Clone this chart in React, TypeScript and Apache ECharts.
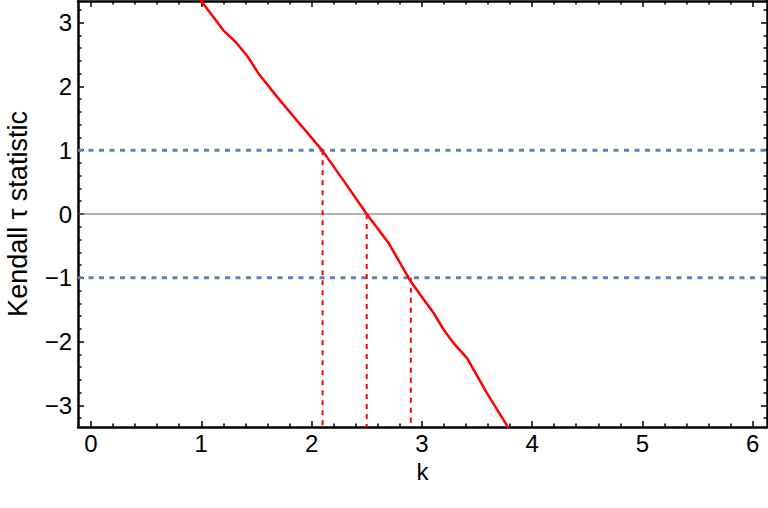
import React, { useEffect, useRef } from "react";
import * as echarts from "echarts";

const curveK = [0.95, 1.0, 1.2, 1.31, 1.42, 1.52, 1.71, 1.9, 2.1, 2.3, 2.5, 2.7, 2.9, 3.02, 3.11, 3.2, 3.29, 3.41, 3.59, 3.77, 3.8];
const curveTau = [3.43, 3.34, 2.88, 2.7, 2.47, 2.2, 1.79, 1.4, 0.99, 0.5, 0.0, -0.46, -1.06, -1.35, -1.56, -1.82, -2.03, -2.26, -2.81, -3.31, -3.4];

const crossK = [2.1, 2.5, 2.9];
const crossTau = [1, 0, -1];
const bandTau = [1, -1];

const xMajor = [0, 1, 2, 3, 4, 5, 6];
const yMajor = [-3, -2, -1, 0, 1, 2, 3];

const X_MIN = -0.118;
const X_MAX = 6.13;
const Y_MIN = -3.34;
const Y_MAX = 3.34;

function minors(lo: number, hi: number, step: number, majors: number[]) {
  const out: number[] = [];
  for (let i = Math.ceil(lo / step); i * step <= hi; i++) {
    const v = Math.round(i * step * 1000) / 1000;
    if (!majors.some((m) => Math.abs(m - v) < 1e-6)) out.push(v);
  }
  return out;
}

const xMinor = minors(X_MIN, X_MAX, 0.2, xMajor);
const yMinor = minors(Y_MIN, Y_MAX, 0.2, yMajor);

const FONT = "Liberation Sans";
const FS = 24;
const NAME_FS = 27;

export default function App() {
  const ref = useRef<HTMLDivElement>(null);
  useEffect(() => {
    if (!ref.current) return;
    const chart = echarts.init(ref.current, undefined, { renderer: "svg" });
    const lineStyle = { color: "#000", width: 2.5 };
    const mkX = (pos: "top" | "bottom", vals: number[], len: number, show: boolean, label: boolean) => ({
      type: "value",
      position: pos,
      min: X_MIN,
      max: X_MAX,
      axisLine: { show, onZero: false, lineStyle },
      axisTick: { show: true, inside: true, length: len, customValues: vals, lineStyle: { color: "#000", width: 1.5 } },
      axisLabel: label
        ? { show: true, customValues: vals, color: "#000", fontSize: FS, fontFamily: FONT, margin: 4 }
        : { show: false },
      splitLine: { show: false },
      name: label ? "k" : "",
      nameLocation: "middle",
      nameGap: 17,
      nameTextStyle: { color: "#000", fontSize: FS, fontFamily: FONT },
    });
    const mkY = (pos: "left" | "right", vals: number[], len: number, show: boolean, label: boolean) => ({
      type: "value",
      position: pos,
      min: Y_MIN,
      max: Y_MAX,
      axisLine: { show, onZero: false, lineStyle },
      axisTick: { show: true, inside: true, length: len, customValues: vals, lineStyle: { color: "#000", width: 1.5 } },
      axisLabel: label
        ? {
            show: true,
            customValues: vals,
            color: "#000",
            fontSize: FS,
            fontFamily: FONT,
            margin: 6,
            formatter: (v: number) => (v < 0 ? "\u2212" + Math.abs(v) : String(v)),
          }
        : { show: false },
      splitLine: { show: false },
      name: label ? "Kendall \u03c4 statistic" : "",
      nameLocation: "middle",
      nameGap: 47,
      nameRotate: 90,
      nameTextStyle: { color: "#000", fontSize: NAME_FS, fontFamily: FONT },
    });

    const series: any[] = [];
    series.push({
      type: "line",
      data: [[X_MIN, 0], [X_MAX, 0]],
      symbol: "none",
      lineStyle: { color: "#666", width: 1 },
      silent: true,
    });
    bandTau.forEach((t) =>
      series.push({
        type: "line",
        data: [[X_MIN, t], [X_MAX, t]],
        symbol: "none",
        lineStyle: { color: "#5e81b5", width: 3, type: [5, 5.5] },
        silent: true,
      })
    );
    crossK.forEach((k, i) =>
      series.push({
        type: "line",
        data: [[k, crossTau[i]], [k, Y_MIN]],
        symbol: "none",
        lineStyle: { color: "#ff0000", width: 2, type: [5, 5] },
        silent: true,
      })
    );
    series.push({
      type: "line",
      data: curveK.map((k, i) => [k, curveTau[i]]),
      symbol: "none",
      lineStyle: { color: "#ff0000", width: 2.5 },
      clip: true,
    });

    chart.setOption({
      animation: false,
      grid: { left: 78, right: 1, top: 1, bottom: 81, containLabel: false, outerBoundsMode: "none" },
      xAxis: [
        mkX("bottom", xMajor, 6, true, true),
        mkX("bottom", xMinor, 3.5, false, false),
        mkX("top", xMajor, 6, true, false),
        mkX("top", xMinor, 3.5, false, false),
      ],
      yAxis: [
        mkY("left", yMajor, 6, true, true),
        mkY("left", yMinor, 3.5, false, false),
        mkY("right", yMajor, 6, true, false),
        mkY("right", yMinor, 3.5, false, false),
      ],
      series,
    });
    return () => chart.dispose();
  }, []);
  return <div ref={ref} style={{ width: 768, height: 508, position: "absolute", left: 0, top: 0, background: "#fff" }} />;
}
